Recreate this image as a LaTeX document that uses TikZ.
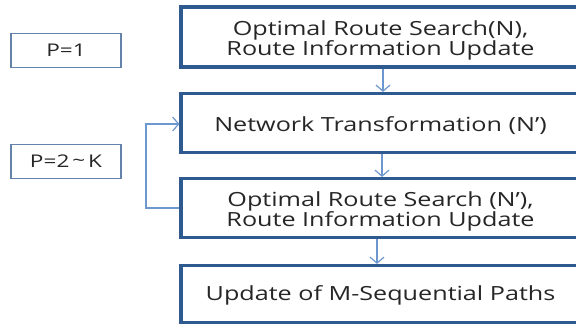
\documentclass[tikz,border=0pt]{standalone}
\usepackage{fontspec}
\setmainfont[FakeStretch=1.29]{Open Sans}
\usetikzlibrary{arrows.meta,calc}
\definecolor{boxblue}{HTML}{2F5A8F}
\definecolor{pblue}{HTML}{6482AA}
\definecolor{arrblue}{HTML}{6C97CF}
\definecolor{txt}{HTML}{262626}
\newcommand{\tightlinesx}{\setlength{\lineskiplimit}{-20pt}}
\tikzset{
  mainbox/.style={draw=boxblue, line width=3.2pt, fill=white, minimum width=399pt, inner sep=0pt},
  boxtext/.style={inner sep=0pt, align=center, text=txt, font={\fontsize{19.5}{20}\selectfont\tightlinesx}},
  pbox/.style={draw=pblue, line width=1.4pt, minimum width=110pt, minimum height=34pt, inner sep=0pt, text=txt, font=\fontsize{17.5}{20}\selectfont},
  conn/.style={draw=arrblue, line width=1.2pt, -{Straight Barb[length=6pt,width=14pt,line width=1.2pt]}},
}
\begin{document}
\begin{tikzpicture}[x=1pt,y=-1pt]
\useasboundingbox (0,0) rectangle (576,325);
\clip (0,0) rectangle (576,325);
\node[mainbox, minimum height=60pt] (b1) at (380.5,37) {};
\node[mainbox, minimum height=59pt] (b2) at (380.5,123) {};
\node[mainbox, minimum height=59pt] (b3) at (380.5,208) {};
\node[mainbox, minimum height=57pt] (b4) at (380.5,294) {};
\node[boxtext] (t1) at ($(b1.center)+(0,3)$) {Optimal Route Search(N),\\Route Information Update};
\node[boxtext] (t2) at ($(b2.center)+(0,2.5)$) {Network Transformation (N’)};
\node[boxtext] (t3) at ($(b3.center)+(0,3)$) {Optimal Route Search (N’),\\Route Information Update};
\node[boxtext] (t4) at ($(b4.center)+(0,1.5)$) {Update of M-Sequential Paths};
\node[pbox] (p1) at (66,50.5) {P=1};
\node[pbox] (p2) at (66,161.5) {P=2\,\raisebox{0.15ex}{\textasciitilde}\,K};
\draw[conn] ([xshift=2.5pt]b1.south) -- ([xshift=2.5pt]b2.north);
\draw[conn] ([xshift=1.5pt]b2.south) -- ([xshift=1.5pt]b3.north);
\draw[conn] ([xshift=-3.5pt]b3.south) -- ([xshift=-3.5pt]b4.north);
\coordinate (fb1) at (146,208);
\coordinate (fb2) at (146,124);
\draw[conn] (b3.west) -- (fb1) -- (fb2) -- (b2.west |- fb2);
\end{tikzpicture}
\end{document}
